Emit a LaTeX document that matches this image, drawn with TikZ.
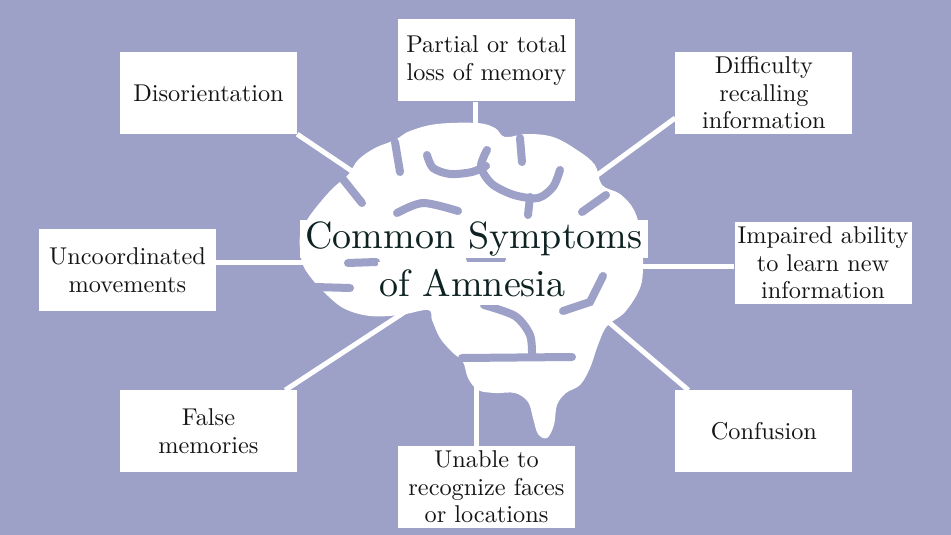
\documentclass[tikz,border=0pt]{standalone}
\usepackage{fontspec}
\setmainfont{lmroman10-regular.otf}
\usetikzlibrary{positioning}
\pgfdeclarelayer{backdrop}
\pgfdeclarelayer{lines}
\pgfdeclarelayer{brain}
\pgfsetlayers{backdrop,lines,brain,main}
\definecolor{lavender}{RGB}{157,160,199}
\definecolor{titleink}{RGB}{14,34,34}
\definecolor{boxink}{RGB}{20,20,20}

\begin{document}
\begin{tikzpicture}[x=1pt,y=-1pt,
        symptom/.style={fill=white,text=boxink,minimum width=177pt,minimum height=82pt,
                        inner sep=0pt,align=center,font=\fontsize{24.3}{27.5}\selectfont},
        heading/.style={fill=white,text=titleink,inner sep=0pt,font=\fontsize{38}{45}\selectfont},
        link/.style={white,line width=5pt},
        fold/.style={lavender,line width=8pt,line cap=round}]

        \useasboundingbox (0,0) rectangle (951,535);
        \begin{pgfonlayer}{backdrop}
        \fill[lavender] (0,0) rectangle (951,535);
        \end{pgfonlayer}

        % Define title
        \node[heading,minimum width=348pt,minimum height=38pt] (title) at (474,239) {Common Symptoms};
        \node[heading,minimum width=189pt,minimum height=43pt] (subtitle) at (472.5,283.5) {of Amnesia};

        % Define symptoms
        \node[symptom] (dis) at (208.5,93) {Disorientation};
        \node[symptom] (loss) at (486.5,60.5) {Partial or total\\loss of memory};
        \node[symptom] (recall) [right=378pt of dis] {Difficulty\\recalling\\information};
        \node[symptom] (unco) at (127.5,270) {Uncoordinated\\movements};
        \node[symptom] (learn) at (823,263) {Impaired ability\\to learn new\\information};
        \node[symptom] (false) [below=256pt of dis] {False\\memories};
        \node[symptom] (faces) at (486.5,487) {Unable to\\recognize faces\\or locations};
        \node[symptom] (conf) [below=256pt of recall] {Confusion};

        % Hub points inside the brain
        \coordinate (hdis) at (380,190);
        \coordinate (htop) at (475,140);
        \coordinate (hrecall) at (570,195);
        \coordinate (hunco) at (330,262);
        \coordinate (hlearn) at (620,266);
        \coordinate (hfalse) at (420,302);
        \coordinate (hbot) at (476,370);
        \coordinate (hconf) at (570,289);

        % Draw links
        \begin{pgfonlayer}{lines}
        \path[link]
            (dis.south east) edge (hdis)
            (htop) edge (htop |- loss.south)
            (hrecall) edge ([yshift=-25pt]recall.west)
            ([yshift=8pt]unco.east) edge (hunco)
            (hlearn) edge ([yshift=-3pt]learn.west)
            ([xshift=-12pt]false.north east) edge (hfalse)
            (hbot) edge (hbot |- faces.north)
            ([xshift=-75.5pt]conf.north) edge (hconf);
        \end{pgfonlayer}

        % Draw brain
        \begin{pgfonlayer}{brain}
        \fill[white] plot[smooth cycle,tension=0.6] coordinates {
            (300,235) (307,220) (318,205) (333,188) (348,175) (358,160) (375,148)
            (395,140) (410,131) (437,124) (477,123) (495,128) (505,137) (527,134)
            (553,137) (577,150) (595,165) (602,185) (620,194) (634,210) (641,235)
            (643,265) (640,288) (625,312) (607,326) (598,345) (590,368) (580,385)
            (566,393) (557,405) (554,425) (547,438) (538,434) (533,418) (528,402)
            (515,393) (495,393) (478,390) (468,378) (463,362) (452,352) (440,338)
            (432,320) (428,310) (400,315) (370,316) (345,309) (328,296) (312,279)
            (302,262)};
        \draw[fold] (395,142) -- (400,172);
        \draw[fold] (342,178) -- (362,203);
        \draw[fold] plot[smooth] coordinates {(427,155) (433,168) (450,174) (472,172) (486,166)};
        \draw[fold] plot[smooth] coordinates {(487,150) (481,167) (492,184) (514,195) (538,198) (553,187) (560,170)};
        \draw[fold] (530,197) -- (528,215);
        \draw[fold] (520,138) -- (522,162);
        \draw[fold] plot[smooth] coordinates {(397,213) (423,203) (458,211)};
        \draw[fold] (582,212) -- (606,195);
        \draw[fold] (348,263) -- (376,262);
        \draw[fold] (470,259) -- (502,259);
        \draw[fold] (315,287) -- (350,288);
        \draw[fold] (603,276) -- (590,302) -- (563,311);
        \draw[fold] plot[smooth] coordinates {(484,305) (515,316) (530,335) (532,356)};
        \draw[fold] (462,358) -- (572,357);
        \end{pgfonlayer}

        \end{tikzpicture}
\end{document}
